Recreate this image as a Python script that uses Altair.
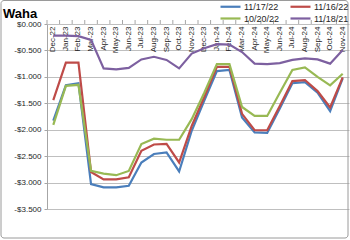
import altair as alt
import pandas as pd

months = ["Dec-22", "Jan-23", "Feb-23", "Mar-23", "Apr-23", "May-23", "Jun-23", "Jul-23",
          "Aug-23", "Sep-23", "Oct-23", "Nov-23", "Dec-23", "Jan-24", "Feb-24", "Mar-24",
          "Apr-24", "May-24", "Jun-24", "Jul-24", "Aug-24", "Sep-24", "Oct-24", "Nov-24"]

series_names = ["11/17/22", "11/16/22", "10/20/22", "11/18/21"]
series_colors = ["#4A7EBB", "#BE4B48", "#98B954", "#7D60A0"]

s_111722 = [-1.83, -1.16, -1.12, -3.03, -3.09, -3.09, -3.06, -2.62, -2.46, -2.43, -2.79, -2.02,
            -1.45, -0.89, -0.87, -1.77, -2.05, -2.06, -1.60, -1.12, -1.10, -1.30, -1.65, -1.03]
s_111622 = [-1.44, -0.73, -0.73, -2.80, -2.94, -2.94, -2.90, -2.40, -2.28, -2.27, -2.62, -1.93,
            -1.38, -0.81, -0.81, -1.70, -2.01, -2.01, -1.55, -1.08, -1.06, -1.27, -1.58, -1.01]
s_102022 = [-1.91, -1.17, -1.15, -2.78, -2.83, -2.86, -2.78, -2.27, -2.17, -2.19, -2.19, -1.80,
            -1.30, -0.76, -0.76, -1.57, -1.74, -1.74, -1.30, -0.87, -0.82, -1.00, -1.16, -0.94]
s_111821 = [-0.22, -0.22, -0.23, -0.30, -0.84, -0.86, -0.83, -0.67, -0.62, -0.68, -0.84, -0.56,
            -0.46, -0.38, -0.39, -0.53, -0.75, -0.76, -0.74, -0.68, -0.65, -0.67, -0.75, -0.49]

y_ticks = [0, -0.5, -1.0, -1.5, -2.0, -2.5, -3.0, -3.5]

rows = []
for name, vals in zip(series_names, [s_111722, s_111622, s_102022, s_111821]):
    for m, v in zip(months, vals):
        rows.append({"month": m, "series": name, "value": v})
df = pd.DataFrame(rows)
month_df = pd.DataFrame({"month": months})

FONT = "Liberation Sans"
W, H = 302, 185

xscale = alt.Scale(type="band", domain=months, paddingInner=0, paddingOuter=0)
yscale = alt.Scale(domain=[-3.5, 0], nice=False, zero=False)

x_axis = alt.Axis(orient="bottom", offset=-H, title=None, labelAngle=-90,
                  labelFontSize=8, labelFont=FONT, labelColor="#262626",
                  labelPadding=2, ticks=False, domain=False, grid=False,
                  labelOverlap=False)

lines = alt.Chart(df).mark_line(strokeWidth=2.2).encode(
    x=alt.X("month:N", scale=xscale, sort=months, bandPosition=0.5, axis=x_axis),
    y=alt.Y("value:Q", scale=yscale,
            axis=alt.Axis(values=y_ticks, title=None, grid=True, gridColor="#BFBFBF",
                          gridWidth=1, domainColor="#A6A6A6", tickColor="#A6A6A6",
                          tickSize=3, labelPadding=3, labelFontSize=8, labelFont=FONT,
                          labelColor="#262626",
                          labelExpr="(datum.value < 0 ? '-' : '') + '$' + format(abs(datum.value), '.3f')")),
    color=alt.Color("series:N", scale=alt.Scale(domain=series_names, range=series_colors),
                    sort=series_names,
                    legend=alt.Legend(orient="none", legendX=177, legendY=-24, columns=2,
                                      direction="horizontal", title=None, padding=0,
                                      symbolType="M-2,0H2", symbolSize=100,
                                      symbolStrokeWidth=2.2, labelOffset=7,
                                      columnPadding=6, rowPadding=-1,
                                      labelFontSize=9, labelFont=FONT, labelColor="#262626")),
)

cat_ticks = alt.Chart(month_df).mark_rule(color="#A6A6A6", strokeWidth=1).encode(
    x=alt.X("month:N", scale=xscale, sort=months, bandPosition=0, axis=x_axis),
    y=alt.value(-4), y2=alt.value(0),
)

frame_data = pd.DataFrame({"frame": ["chart area"]})
frame = alt.Chart(frame_data).mark_rect(fill=None, stroke="#9A9A9A", strokeWidth=1,
                                        cornerRadius=3, clip=False).encode(
    x=alt.value(-46), x2=alt.value(301), y=alt.value(-23.5), y2=alt.value(214)
)

chart = alt.layer(lines, cat_ticks, frame).properties(
    width=W, height=H,
    title=alt.TitleParams("Waha", anchor="start", frame="group", dx=-44, dy=25, offset=4,
                          fontSize=13, fontWeight="bold", font=FONT, color="black"),
    autosize=alt.AutoSizeParams(type="none"),
    padding={"left": 47, "top": 24, "right": 1, "bottom": 31},
).configure_view(stroke=None)

chart.save("out.html", embed_options={"renderer": "svg", "actions": False})
